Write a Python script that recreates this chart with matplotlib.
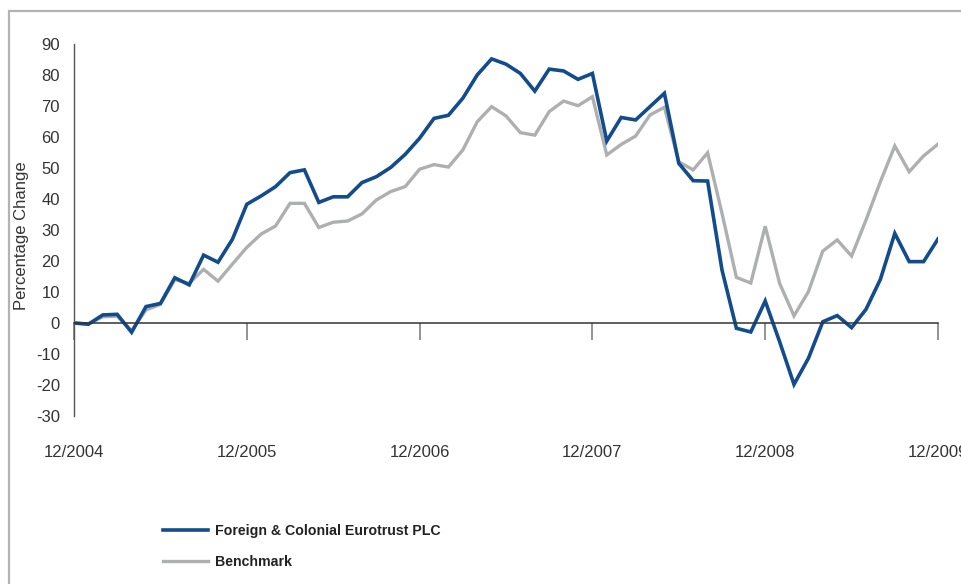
import matplotlib.pyplot as plt
from matplotlib.patches import Rectangle

plt.rcParams['font.family'] = ['Liberation Sans', 'DejaVu Sans']
plt.rcParams['axes.unicode_minus'] = False

# monthly points, 12/2004 .. 12/2009
fund = [0.0, -0.4, 2.6, 2.8, -3.0, 5.3, 6.3, 14.6, 12.3, 21.9, 19.6, 27.0,
        38.3, 41.0, 44.0, 48.5, 49.4, 38.9, 40.7, 40.7, 45.3, 47.2, 50.2, 54.4,
        59.6, 66.0, 67.0, 72.5, 80.0, 85.2, 83.5, 80.5, 74.8, 81.9, 81.3, 78.6,
        80.5, 58.7, 66.3, 65.5, 69.8, 74.1, 51.5, 45.9, 45.8, 17.1, -1.7, -2.9,
        7.1, -6.0, -19.8, -11.4, 0.4, 2.4, -1.5, 4.4, 14.1, 28.9, 19.8, 19.8, 27.1]
bench = [0.0, -0.3, 2.0, 2.2, -2.5, 4.2, 6.0, 14.0, 12.8, 17.3, 13.5, 19.0,
         24.4, 28.7, 31.3, 38.6, 38.6, 30.8, 32.5, 32.9, 35.2, 39.7, 42.4, 44.0,
         49.6, 51.1, 50.3, 55.8, 64.9, 69.8, 66.8, 61.4, 60.6, 68.2, 71.6, 70.1,
         73.0, 54.2, 57.6, 60.3, 67.1, 69.6, 52.0, 49.4, 54.9, 35.4, 14.7, 12.9,
         31.2, 12.8, 2.3, 10.1, 23.2, 26.8, 21.6, 33.2, 45.6, 57.1, 48.8, 53.9, 57.7]
years = ['12/2004', '12/2005', '12/2006', '12/2007', '12/2008', '12/2009']
yticks = list(range(-30, 100, 10))

fig = plt.figure(figsize=(9.61, 5.84), dpi=100)
ax = fig.add_axes([74/961, 168/584, 864/961, 372/584])

# grey frame around the panel
fig.patches.append(Rectangle((9/961, -0.1), 1.2, 1 - 11/584 + 0.1, transform=fig.transFigure,
                             fill=False, edgecolor='#b3b3b3', linewidth=1.6))

x = list(range(len(fund)))
ax.plot(x, bench, color='#aeafb1', lw=2.4, label='Benchmark', solid_joinstyle='miter')
ax.plot(x, fund, color='#134c8c', lw=2.6, label='Foreign & Colonial Eurotrust PLC',
        solid_joinstyle='miter')

ax.set_xlim(0, 60)
ax.set_ylim(-30, 90)

for s in ['top', 'right']:
    ax.spines[s].set_visible(False)
ax.spines['left'].set_color('#555555')
ax.spines['left'].set_linewidth(1.0)
ax.spines['bottom'].set_position(('data', 0))
ax.spines['bottom'].set_color('#333333')
ax.spines['bottom'].set_linewidth(1.1)

ax.set_xticks(range(0, 61, 12))
ax.set_xticklabels(years)
ax.tick_params(axis='x', direction='out', length=12, width=1.3, color='#8a8a8a',
               pad=76, labelsize=12, labelcolor='#333333')
ax.set_yticks(yticks)
ax.tick_params(axis='y', length=0, pad=10, labelsize=12, labelcolor='#333333')

fig.text(22/961, 1 - 236/584, 'Percentage Change', rotation=90, ha='center', va='center',
         fontsize=12, color='#333333')

h, l = ax.get_legend_handles_labels()
leg = fig.legend(h[::-1], l[::-1], loc='center left', bbox_to_anchor=(163/961, 1 - 546/584),
                 frameon=False, borderpad=0, borderaxespad=0, handlelength=3.2,
                 handletextpad=0.5, labelspacing=1.2,
                 prop={'size': 10.2, 'weight': 'bold'})
for t in leg.get_texts():
    t.set_color('#222222')

fig.savefig('out.png', dpi=100)
